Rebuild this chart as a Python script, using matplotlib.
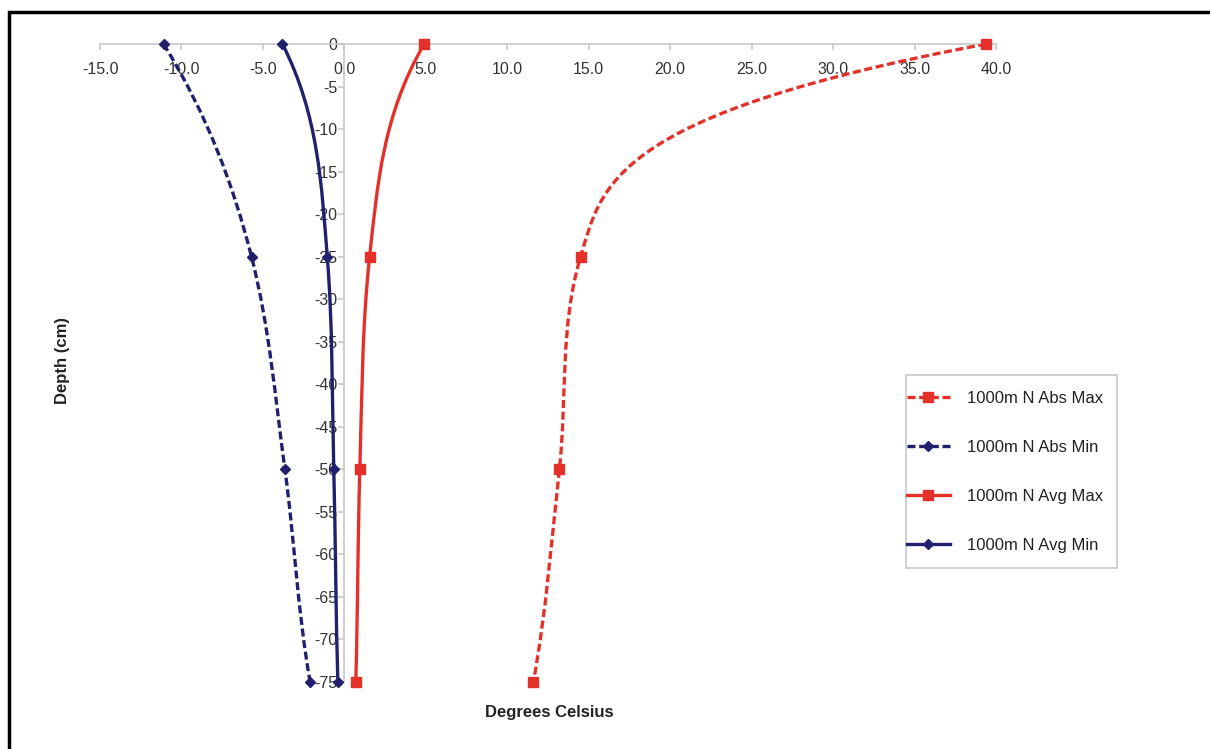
import numpy as np
import matplotlib.pyplot as plt
from matplotlib.path import Path
from matplotlib.patches import PathPatch, Rectangle
from matplotlib.lines import Line2D

plt.rcParams['font.family'] = ['Liberation Sans', 'DejaVu Sans']

depth = [0, -25, -50, -75]
abs_max = [39.4, 14.5, 13.2, 11.6]
abs_min = [-11.1, -5.7, -3.65, -2.1]
avg_max = [4.9, 1.55, 0.95, 0.7]
avg_min = [-3.8, -1.05, -0.65, -0.4]
labels = ['1000m N Abs Max', '1000m N Abs Min', '1000m N Avg Max', '1000m N Avg Min']

xticks = np.arange(-15, 41, 5)
yticks = np.arange(0, -76, -5)

red = '#e3312a'
navy = '#22206e'


def end_slope(d_near, d_far):
    # steeper end tangent when the next segment flattens out
    if d_near == 0:
        return 0.0
    r = d_far / d_near
    k = np.clip(3 - 4 * r, 1.5, 2.8) if r > 0 else 1.5
    return k * d_near


def smooth_path(xs, ys):
    # smoothed line as cubic beziers, x treated as a function of depth
    x = np.asarray(xs, float)
    y = np.asarray(ys, float)
    h = np.diff(y)
    d = np.diff(x) / h
    n = len(x)
    s = np.zeros(n)
    for i in range(1, n - 1):
        if d[i - 1] * d[i] > 0:
            g = np.sign(d[i]) * np.sqrt(d[i - 1] * d[i])
            lim = 3 * min(abs(d[i - 1]), abs(d[i]))
            s[i] = np.sign(g) * min(abs(g), lim)
    s[0] = end_slope(d[0], d[1])
    s[-1] = end_slope(d[-1], d[-2])
    verts = [(x[0], y[0])]
    codes = [Path.MOVETO]
    for i in range(n - 1):
        dy = h[i]
        verts += [(x[i] + s[i] * dy / 3, y[i] + dy / 3),
                  (x[i + 1] - s[i + 1] * dy / 3, y[i + 1] - dy / 3),
                  (x[i + 1], y[i + 1])]
        codes += [Path.CURVE4] * 3
    return Path(verts, codes)


fig = plt.figure(figsize=(12.1, 7.49), dpi=100)
ax = fig.add_axes([100 / 1210, 1 - 682 / 749, 896 / 1210, 638 / 749])

dash = (0, (2.4, 1.1))
series = [
    (abs_max, red, dash, 's', 7),
    (abs_min, navy, dash, 'D', 5),
    (avg_max, red, '-', 's', 7),
    (avg_min, navy, '-', 'D', 5),
]
handles = []
for (xs, c, ls, m, ms), lab in zip(series, labels):
    patch = PathPatch(smooth_path(xs, depth), facecolor='none', edgecolor=c,
                      lw=2.4, linestyle=ls, zorder=3)
    ax.add_patch(patch)
    ax.plot(xs, depth, ls='none', marker=m, color=c, ms=ms, zorder=4, clip_on=False)
    handles.append(Line2D([], [], color=c, ls=ls, lw=2.4, marker=m, ms=ms))

ax.set_xlim(-15, 40)
ax.set_ylim(-75, 0)
ax.set_xticks(xticks)
ax.set_xticklabels(['%.1f' % v for v in xticks])
ax.set_yticks(yticks)
ax.set_yticklabels(['%d' % v for v in yticks])

for s in ['top', 'right']:
    ax.spines[s].set_visible(False)
ax.spines['bottom'].set_position(('data', 0))
ax.spines['left'].set_position(('data', 0))
for s in ['bottom', 'left']:
    ax.spines[s].set_color('#c8c8c8')
    ax.spines[s].set_linewidth(1.2)
ax.tick_params(axis='both', colors='#c8c8c8', labelcolor='#333333',
               labelsize=11.5, length=4, width=1.2)
ax.tick_params(axis='x', pad=9)
ax.tick_params(axis='y', pad=1)

fig.text(62 / 1210, 1 - 361 / 749, 'Depth (cm)', rotation=90, ha='center',
         va='center', fontsize=12, fontweight='bold', color='#222222')
fig.text(549 / 1210, 1 - 712 / 749, 'Degrees Celsius', ha='center',
         va='center', fontsize=12, fontweight='bold', color='#222222')

leg = fig.legend(handles, labels, loc='center left',
                 bbox_to_anchor=(905 / 1210, 1 - 472 / 749),
                 fontsize=12, frameon=False,
                 labelspacing=2.05, handlelength=2.6, borderpad=0.1,
                 handletextpad=1.0, borderaxespad=0)
for t in leg.get_texts():
    t.set_color('#222222')

fig.patches.append(Rectangle((906 / 1210, 1 - 568 / 749), 211 / 1210, 193 / 749,
                             transform=fig.transFigure, fill=False,
                             edgecolor='#c8c8c8', lw=1.2))
fig.patches.append(Rectangle((9 / 1210, -0.2), 1.2, 1 - 12 / 749 + 0.2,
                             transform=fig.transFigure, fill=False,
                             edgecolor='black', lw=2.5))

fig.savefig('out.png', dpi=100)
